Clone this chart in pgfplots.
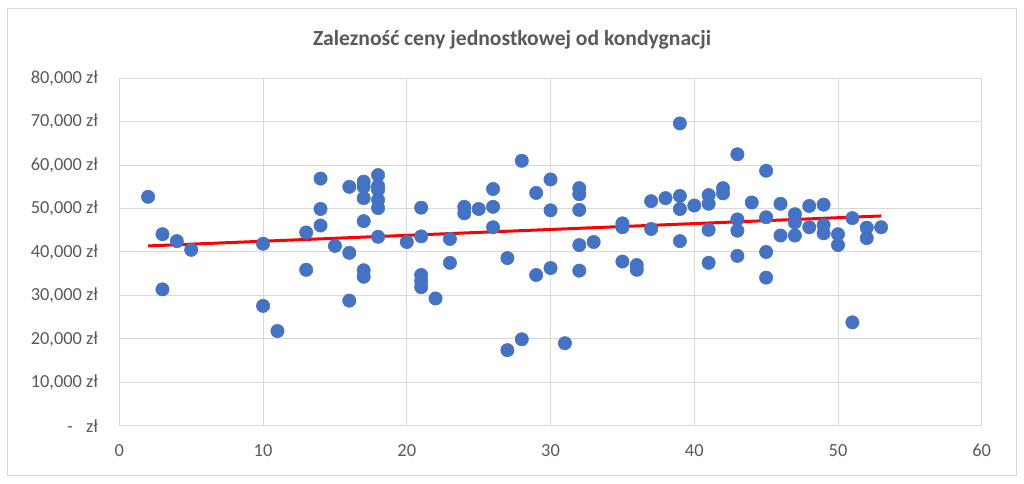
\documentclass[border=0pt]{standalone}
\usepackage{pgfplots}
\pgfplotsset{compat=1.18}
\usepackage{fontspec}
\setmainfont{Carlito}
\definecolor{txt}{HTML}{595959}
\definecolor{grd}{HTML}{D9D9D9}
\definecolor{dot}{HTML}{4472C4}
\pgfplotstableread{
x y
2 52700
3 44100
3 31400
4 42500
5 40500
10 41900
10 27600
11 21800
13 44500
13 35900
14 56900
14 49900
14 46100
15 41400
16 55000
16 39800
16 28800
17 56200
17 55000
17 52400
17 47100
17 35800
17 34300
18 57700
18 55200
18 54300
18 52000
18 50100
18 43500
20 42300
21 50200
21 43600
21 34700
21 33300
21 31900
22 29300
23 43000
23 37500
24 50400
24 48900
25 49900
26 54500
26 50400
26 45700
27 38600
27 17400
28 61000
28 19900
29 53600
29 34700
30 56700
30 49600
30 36300
31 19000
32 54700
32 53300
32 49700
32 41600
32 35700
33 42300
35 46600
35 45700
35 37800
36 37000
36 35900
37 51700
37 45300
38 52400
39 69600
39 52900
39 49900
39 42500
40 50700
41 53100
41 51100
41 45100
41 37500
42 54700
42 53500
43 62500
43 47500
43 44900
43 39100
44 51400
45 58700
45 48000
45 40000
45 34100
46 51100
46 43800
47 48700
47 46800
47 43800
48 50600
48 45700
49 50900
49 46200
49 44300
50 44100
50 41600
51 47800
51 23800
52 45600
52 43200
53 45700
}\pts
\begin{document}
\begin{tikzpicture}[x=1pt,y=1pt]
\useasboundingbox (0,0) rectangle (768,363);
\draw[grd, line width=0.75pt] (5.25,6) rectangle (762,356.25);
\node[anchor=base, font=\fontsize{16.2}{19}\selectfont\bfseries, text=txt] at (384,328.5) {Zalezność ceny jednostkowej od kondygnacji};
\begin{axis}[
  at={(89.5pt,43.7pt)}, anchor=south west,
  scale only axis, width=646.8pt, height=260.6pt,
  xmin=0, xmax=60, ymin=0, ymax=80000,
  xtick={0,10,...,60},
  ytick={0,10000,...,80000},
  yticklabels={{-\hspace{10pt}zł},{10,000 zł},{20,000 zł},{30,000 zł},{40,000 zł},{50,000 zł},{60,000 zł},{70,000 zł},{80,000 zł}},
  scaled y ticks=false,
  grid=major,
  grid style={grd, line width=0.75pt},
  axis line style={grd, line width=0.75pt},
  major tick length=0pt,
  tick style={draw=none},
  tick label style={font=\fontsize{13.8}{16}\selectfont, text=txt},
  yticklabel style={xshift=-12.5pt},
  xticklabel style={yshift=-10.5pt},
  /pgf/number format/assume math mode=true,
]
\addplot[only marks, mark=*, mark size=5pt, mark options={fill=dot, draw=dot}] table[x=x,y=y] {\pts};
\addplot[draw={rgb,255:red,255;green,0;blue,0}, line width=2.25pt] coordinates {(2,41400) (53,48300)};
\end{axis}
\end{tikzpicture}
\end{document}
